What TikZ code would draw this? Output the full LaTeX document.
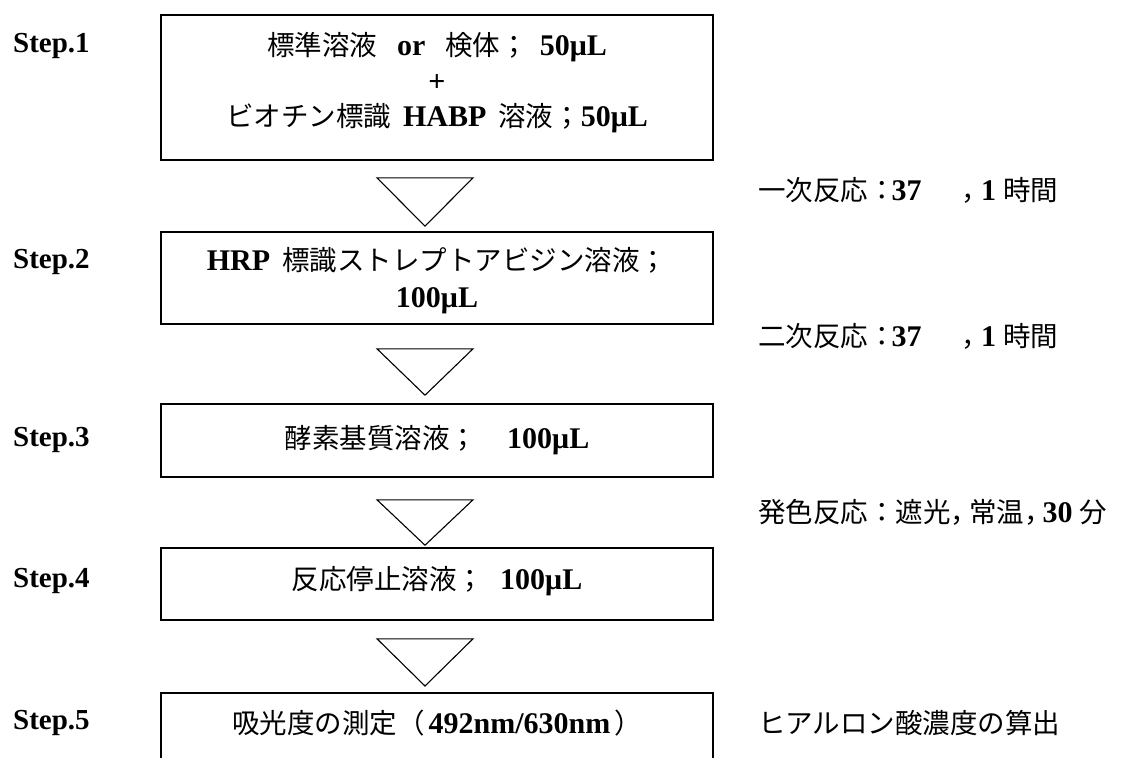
\documentclass[tikz,border=0pt]{standalone}
\usepackage{fontspec}
\setmainfont{Liberation Serif}
\newfontfamily\jpfont{Noto Sans CJK JP}
\usetikzlibrary{calc}
\newcommand{\J}[1]{{\jpfont\mdseries\fontsize{27.5}{27.5}\selectfont #1}}
\begin{document}
\begin{tikzpicture}[x=1pt,y=-1pt,
  box/.style={draw, line width=1.6pt, minimum width=552pt, inner sep=0pt},
  txt/.style={align=center, inner sep=0pt, font=\fontsize{30}{35.5}\selectfont\bfseries},
  steplabel/.style={anchor=west, inner sep=0pt, font=\fontsize{29}{34}\selectfont\bfseries},
  note/.style={anchor=west, inner sep=0pt, font=\fontsize{30}{34}\selectfont\bfseries},
  tri/.style={draw, line width=1.1pt, line join=miter}]
\useasboundingbox (0,0) rectangle (1128,758);
\clip (0,0) rectangle (1128,758);
\fill[white] (0,0) rectangle (1128,758);

% boxes
\node[box, minimum height=145pt] (b1) at (437,87.5) {};
\node[box, minimum height=92pt] (b2) at (437,278) {};
\node[box, minimum height=73pt] (b3) at (437,440.5) {};
\node[box, minimum height=72pt] (b4) at (437,584) {};
\node[box, minimum height=120pt, anchor=north] (b5) at (437,692) {};

% box texts
\node[txt] (t1) at (437,83) {\J{標準溶液}\hspace{20pt}or\hspace{20pt}\J{検体；}\hspace{12pt}50μL\\+\\\J{ビオチン標識}\hspace{12pt}HABP\hspace{12pt}\J{溶液；}50μL};
\node[txt, font=\fontsize{30}{37}\selectfont\bfseries] (t2) at (437,281) {HRP\hspace{12pt}\J{標識ストレプトアビジン溶液；}\\100μL};
\node[txt] (t3) at (437,440) {\J{酵素基質溶液；}\hspace{30pt}100μL};
\node[txt] (t4) at (437,581) {\J{反応停止溶液；}\hspace{16pt}100μL};
\node[txt] (t5) at (437,723) {\J{吸光度の測定（}\hspace{4pt}492nm/630nm\hspace{4pt}\J{）}};

% triangles between boxes
\draw[tri] ($(b1.south)+(-60,17)$) -- ($(b1.south)+(36,17)$) -- ($(b2.north)+(-12,-5)$) -- cycle;
\draw[tri] ($(b2.south)+(-60,24)$) -- ($(b2.south)+(36,24)$) -- ($(b3.north)+(-12,-8)$) -- cycle;
\draw[tri] ($(b3.south)+(-60,22)$) -- ($(b3.south)+(36,22)$) -- ($(b4.north)+(-12,-2)$) -- cycle;
\draw[tri] ($(b4.south)+(-60,18)$) -- ($(b4.south)+(36,18)$) -- ($(b5.north)+(-12,-6)$) -- cycle;

% step labels
\node[steplabel] (s1) at (13,46) {Step.1};
\node[steplabel] (s2) at (13,262) {Step.2};
\node[steplabel] (s3) at (13,440) {Step.3};
\node[steplabel] (s4) at (13,581) {Step.4};
\node[steplabel] (s5) at (13,723) {Step.5};

% notes
\node[note] (r1) at (758,190) {\J{一次反応：}\hspace{-4pt}37\hspace{40pt}\J{，}\hspace{-8pt}1\hspace{7pt}\J{時間}};
\node[note] (r2) at (758,336) {\J{二次反応：}\hspace{-4pt}37\hspace{40pt}\J{，}\hspace{-8pt}1\hspace{7pt}\J{時間}};
\node[note] (r3) at (758,512) {\J{発色反応：遮光，}\hspace{-9pt}\J{常温，}\hspace{-9pt}30\hspace{7pt}\J{分}};
\node[note] (r4) at (758,723) {\J{ヒアルロン酸濃度の算出}};
\end{tikzpicture}
\end{document}
